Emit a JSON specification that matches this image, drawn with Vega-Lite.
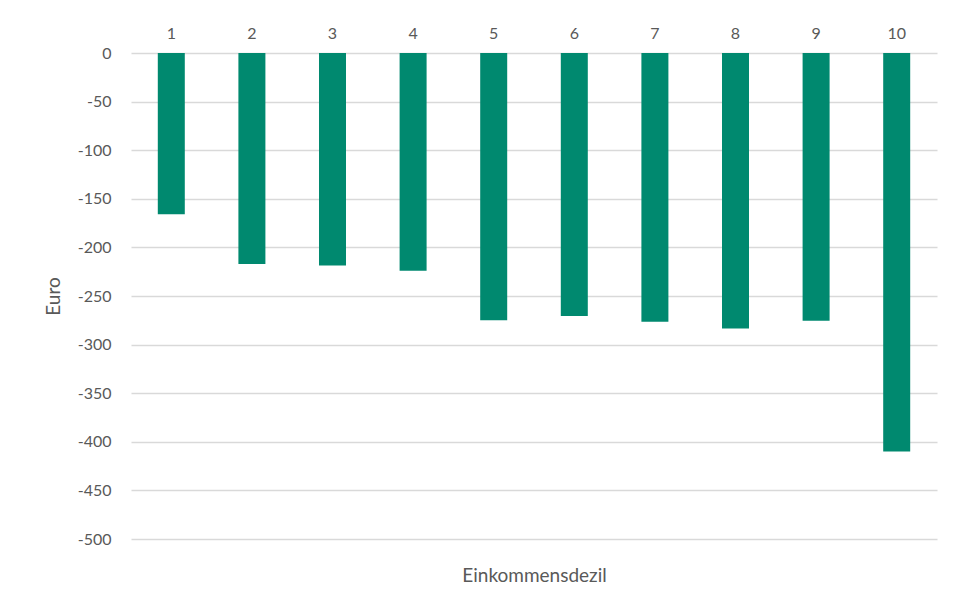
{
  "$schema": "https://vega.github.io/schema/vega-lite/v6.json",
  "autosize": "none",
  "width": 806,
  "height": 486,
  "padding": {"left": 131, "top": 53, "right": 16, "bottom": 62},
  "background": "white",
  "config": {
    "view": {"stroke": null},
    "font": "Lato",
    "axis": {"labelColor": "#595959", "titleColor": "#595959", "labelFont": "Lato", "titleFont": "Lato", "titleFontWeight": "normal"}
  },
  "data": {"values": [
    {"dezil": 1, "euro": -166},
    {"dezil": 2, "euro": -217},
    {"dezil": 3, "euro": -218.5},
    {"dezil": 4, "euro": -224},
    {"dezil": 5, "euro": -275},
    {"dezil": 6, "euro": -270.5},
    {"dezil": 7, "euro": -276.5},
    {"dezil": 8, "euro": -283.5},
    {"dezil": 9, "euro": -275.5},
    {"dezil": 10, "euro": -410}
  ]},
  "mark": {"type": "bar", "color": "#00896F"},
  "encoding": {
    "x": {
      "field": "dezil", "type": "ordinal",
      "scale": {"paddingInner": 0.665, "paddingOuter": 0.3325},
      "axis": {
        "orient": "top", "title": "Einkommensdezil", "labelAngle": 0,
        "domain": false, "ticks": false, "labelPadding": 12, "labelFontSize": 16,
        "titleFontSize": 19, "titleY": 522, "titleBaseline": "middle"
      }
    },
    "y": {
      "field": "euro", "type": "quantitative",
      "scale": {"domain": [-500, 0], "nice": false},
      "axis": {
        "title": "Euro", "values": [0, -50, -100, -150, -200, -250, -300, -350, -400, -450, -500],
        "labelExpr": "'' + datum.value",
        "domain": false, "ticks": false, "labelPadding": 20, "labelFontSize": 16,
        "gridColor": "#d9d9d9", "gridWidth": 1.3, "titleFontSize": 19, "titleX": -78, "titleBaseline": "middle"
      }
    }
  }
}
